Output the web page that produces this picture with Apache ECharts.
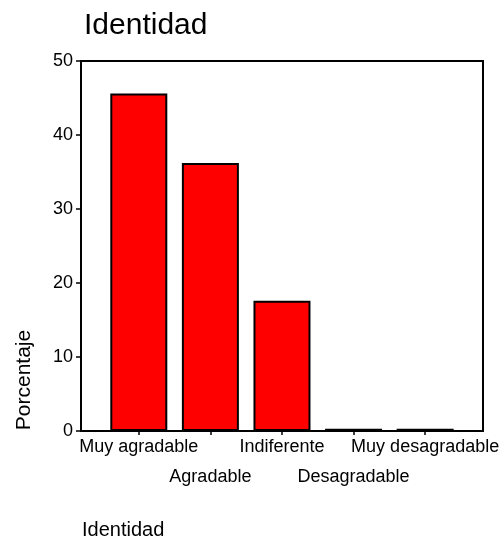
<!DOCTYPE html>
<html lang="es">
<head>
    <meta charset="UTF-8">
    <title>Identidad</title>
    <script src="https://cdn.jsdelivr.net/npm/echarts@6/dist/echarts.min.js"></script>
</head>
<body style="margin:0">
<div id="chart" style="width:502px;height:545px"></div>
<script>
    var chart = echarts.init(document.getElementById('chart'));

    var categorias = ['Muy agradable', 'Agradable', 'Indiferente', 'Desagradable', 'Muy desagradable'];
    var porcentajes = [45.6, 36.2, 17.6, 0.3, 0.3];
    var ticksY = [0, 10, 20, 30, 40, 50];
    var font = 'Liberation Sans, Arial, sans-serif';

    var option = {
        backgroundColor: '#ffffff',
        animation: false,
        title: {
            text: 'Identidad',
            left: 79,
            top: 6,
            textStyle: {fontFamily: font, fontSize: 30, fontWeight: 'normal', color: '#000'}
        },
        graphic: [{
            type: 'text',
            x: 24,
            y: 380,
            rotation: Math.PI / 2,
            style: {text: 'Porcentaje', fontFamily: font, fontSize: 21, fill: '#000', align: 'center', verticalAlign: 'middle'}
        }, {
            type: 'text',
            left: 82,
            top: 520,
            style: {text: 'Identidad', fontFamily: font, fontSize: 20, fill: '#000'}
        }],
        grid: [{
            // marco del grafico
            left: 81, right: 19, top: 61, bottom: 114,
            show: true, borderColor: '#000', borderWidth: 2, backgroundColor: 'transparent'
        }, {
            left: 103, right: 39, top: 61, bottom: 114
        }],
        xAxis: [{
            gridIndex: 0, type: 'value', show: false
        }, {
            gridIndex: 1,
            type: 'category',
            data: categorias,
            axisLine: {show: false},
            axisTick: {show: true, alignWithLabel: true, length: 4, lineStyle: {color: '#000', width: 1.5}},
            axisLabel: {
                interval: 0,
                margin: 1,
                lineHeight: 30,
                fontFamily: font,
                fontSize: 18,
                color: '#000',
                formatter: function (v, i) {
                    return i % 2 ? '\n' + v : v;
                }
            }
        }],
        yAxis: [{
            gridIndex: 0,
            type: 'value',
            min: ticksY[0],
            max: ticksY[ticksY.length - 1],
            interval: 10,
            axisLine: {show: false},
            splitLine: {show: false},
            axisTick: {show: true, length: 5, lineStyle: {color: '#000', width: 1.5}},
            axisLabel: {margin: 8, fontFamily: font, fontSize: 18, color: '#000'}
        }, {
            gridIndex: 1,
            type: 'value',
            min: ticksY[0],
            max: ticksY[ticksY.length - 1],
            show: false
        }],
        series: [{
            type: 'bar',
            xAxisIndex: 1,
            yAxisIndex: 1,
            barWidth: 57,
            itemStyle: {color: '#ff0000', borderColor: '#000', borderWidth: 2},
            data: porcentajes
        }]
    };

    chart.setOption(option);
</script>
</body>
</html>
